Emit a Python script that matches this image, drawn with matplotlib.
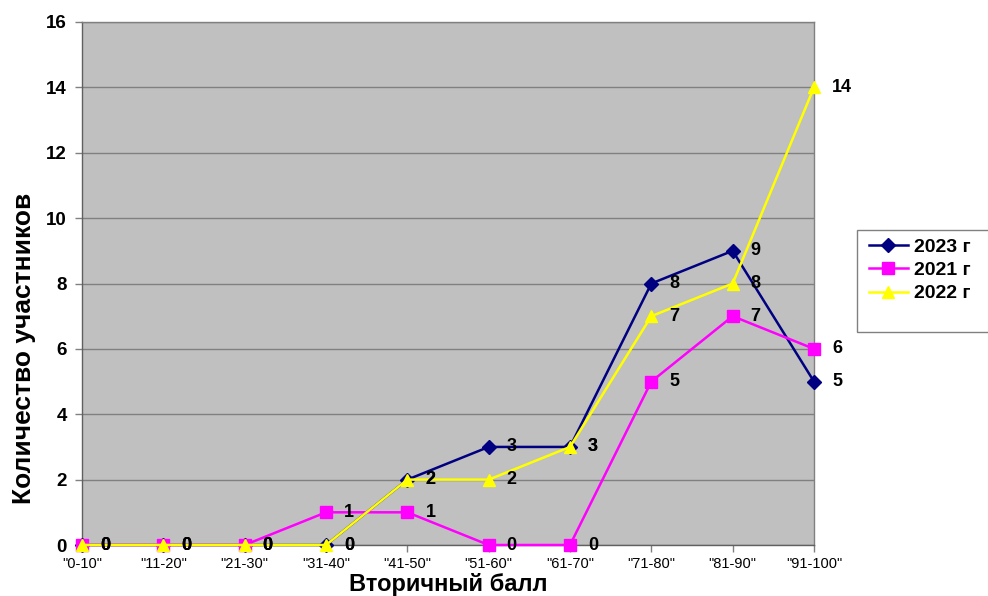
import matplotlib
matplotlib.use("Agg")
import matplotlib.pyplot as plt
from matplotlib.patches import Rectangle

plt.rcParams['font.family'] = ['Liberation Sans', 'DejaVu Sans']

categories = ['"0-10"', '"11-20"', '"21-30"', '"31-40"', '"41-50"',
              '"51-60"', '"61-70"', '"71-80"', '"81-90"', '"91-100"']
s2023 = [0, 0, 0, 0, 2, 3, 3, 8, 9, 5]
s2021 = [0, 0, 0, 1, 1, 0, 0, 5, 7, 6]
s2022 = [0, 0, 0, 0, 2, 2, 3, 7, 8, 14]
yticks = [0, 2, 4, 6, 8, 10, 12, 14, 16]

W, H = 988, 596
fig = plt.figure(figsize=(W/100, H/100), dpi=100)
ax = fig.add_axes([82/W, 1-545/H, (814-82)/W, (545-22)/H])
ax.set_facecolor('#C0C0C0')

x = list(range(len(categories)))
series = [
    ('2023 г', s2023, '#000080', 'D', 7),
    ('2021 г', s2021, '#FF00FF', 's', 9),
    ('2022 г', s2022, '#FFFF00', '^', 8),
]
handles = []
for name, vals, col, mk, ms in series:
    h, = ax.plot(x, vals, color=col, marker=mk, markersize=ms, linewidth=1.8,
                 markeredgecolor=col, label=name, clip_on=False, zorder=3)
    handles.append(h)
    for xi, v in zip(x, vals):
        ax.annotate(str(v), (xi, v), xytext=(13, 0), textcoords='offset points',
                    ha='left', va='center', fontsize=13, fontweight='bold',
                    color='black', zorder=5, annotation_clip=False)

ax.set_xlim(0, len(categories) - 1)
ax.set_ylim(0, 16)
ax.set_xticks(x)
ax.set_xticklabels(categories, fontsize=10.5)
ax.set_yticks(yticks)
ax.set_yticklabels([str(t) for t in yticks], fontsize=13.5, fontweight='bold')
ax.yaxis.grid(True, color='#808080', linewidth=1)
ax.set_axisbelow(True)
ax.tick_params(axis='both', length=5, color='#808080', width=1)
ax.tick_params(axis='y', pad=6)
ax.tick_params(axis='x', pad=4)
for sp in ax.spines.values():
    sp.set_color('#808080')
    sp.set_linewidth(1)
ax.spines['left'].set_color('#606060')
ax.spines['bottom'].set_color('#606060')

ax.set_xlabel('Вторичный балл', fontsize=17, fontweight='bold', labelpad=1)
ax.set_ylabel('Количество участников', fontsize=19, fontweight='bold')
ax.yaxis.set_label_coords((36 - 82) / 732, (545 - 348) / 523)

# legend box (extends past the right edge of the figure, as in the reference)
fig.patches.append(Rectangle((857/W, 1-332/H), 150/W, 102/H,
                             transform=fig.transFigure, facecolor='white',
                             edgecolor='#808080', linewidth=1, zorder=1))
leg = fig.legend(handles=handles, loc='upper left',
                 bbox_to_anchor=(869/W, 1-238/H),
                 prop={'weight': 'bold', 'size': 14},
                 frameon=False, handlelength=2.0, handletextpad=0.3,
                 borderpad=0.0, labelspacing=0.3, borderaxespad=0)

fig.savefig('out.png', dpi=100)
